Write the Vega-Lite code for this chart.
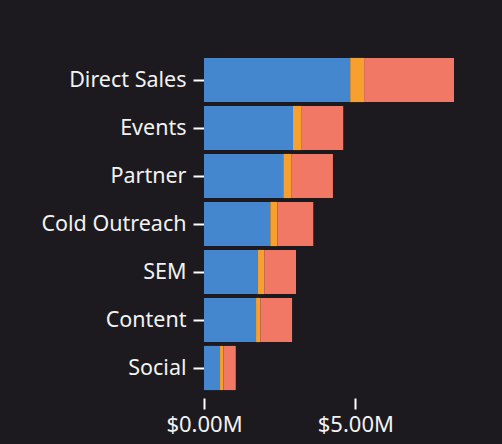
{
  "$schema": "https://vega.github.io/schema/vega-lite/v6.json",
  "autosize": "none",
  "width": 250,
  "height": 336,
  "padding": {"left": 204, "top": 56, "right": 48, "bottom": 52},
  "background": "#1c1a1f",
  "data": {
    "values": [
      {"channel": "Direct Sales", "stage": "Closed", "rank": 1, "amount": 4.83},
      {"channel": "Direct Sales", "stage": "Committed", "rank": 2, "amount": 0.46},
      {"channel": "Direct Sales", "stage": "Pipeline", "rank": 3, "amount": 2.97},
      {"channel": "Events", "stage": "Closed", "rank": 1, "amount": 2.94},
      {"channel": "Events", "stage": "Committed", "rank": 2, "amount": 0.29},
      {"channel": "Events", "stage": "Pipeline", "rank": 3, "amount": 1.37},
      {"channel": "Partner", "stage": "Closed", "rank": 1, "amount": 2.62},
      {"channel": "Partner", "stage": "Committed", "rank": 2, "amount": 0.26},
      {"channel": "Partner", "stage": "Pipeline", "rank": 3, "amount": 1.38},
      {"channel": "Cold Outreach", "stage": "Closed", "rank": 1, "amount": 2.19},
      {"channel": "Cold Outreach", "stage": "Committed", "rank": 2, "amount": 0.24},
      {"channel": "Cold Outreach", "stage": "Pipeline", "rank": 3, "amount": 1.18},
      {"channel": "SEM", "stage": "Closed", "rank": 1, "amount": 1.77},
      {"channel": "SEM", "stage": "Committed", "rank": 2, "amount": 0.22},
      {"channel": "SEM", "stage": "Pipeline", "rank": 3, "amount": 1.05},
      {"channel": "Content", "stage": "Closed", "rank": 1, "amount": 1.72},
      {"channel": "Content", "stage": "Committed", "rank": 2, "amount": 0.14},
      {"channel": "Content", "stage": "Pipeline", "rank": 3, "amount": 1.05},
      {"channel": "Social", "stage": "Closed", "rank": 1, "amount": 0.53},
      {"channel": "Social", "stage": "Committed", "rank": 2, "amount": 0.11},
      {"channel": "Social", "stage": "Pipeline", "rank": 3, "amount": 0.41}
    ]
  },
  "mark": {"type": "bar"},
  "encoding": {
    "y": {
      "field": "channel",
      "type": "nominal",
      "sort": ["Direct Sales", "Events", "Partner", "Cold Outreach", "SEM", "Content", "Social"],
      "scale": {"paddingInner": 0.08, "paddingOuter": 0.04},
      "axis": {"title": null, "tickSize": 11, "labelPadding": 7, "labelOffset": 1}
    },
    "x": {
      "field": "amount",
      "type": "quantitative",
      "aggregate": "sum",
      "scale": {"nice": false},
      "axis": {
        "title": null,
        "values": [0, 5],
        "offset": 6,
        "tickSize": 11,
        "labelPadding": 5,
        "labelFontSize": 22,
        "labelFlush": false,
        "labelExpr": "'$' + format(datum.value, '.2f') + 'M'"
      }
    },
    "color": {
      "field": "stage",
      "type": "nominal",
      "scale": {
        "domain": ["Closed", "Committed", "Pipeline"],
        "range": ["#4487cf", "#f7a030", "#f07864"]
      },
      "legend": null
    },
    "order": {"field": "rank"}
  },
  "config": {
    "view": {"stroke": null},
    "axis": {
      "domain": false,
      "grid": false,
      "tickColor": "#ffffff",
      "tickWidth": 2,
      "labelColor": "#f2f2f2",
      "labelFont": "Noto Sans",
      "labelFontSize": 21.5
    }
  }
}
